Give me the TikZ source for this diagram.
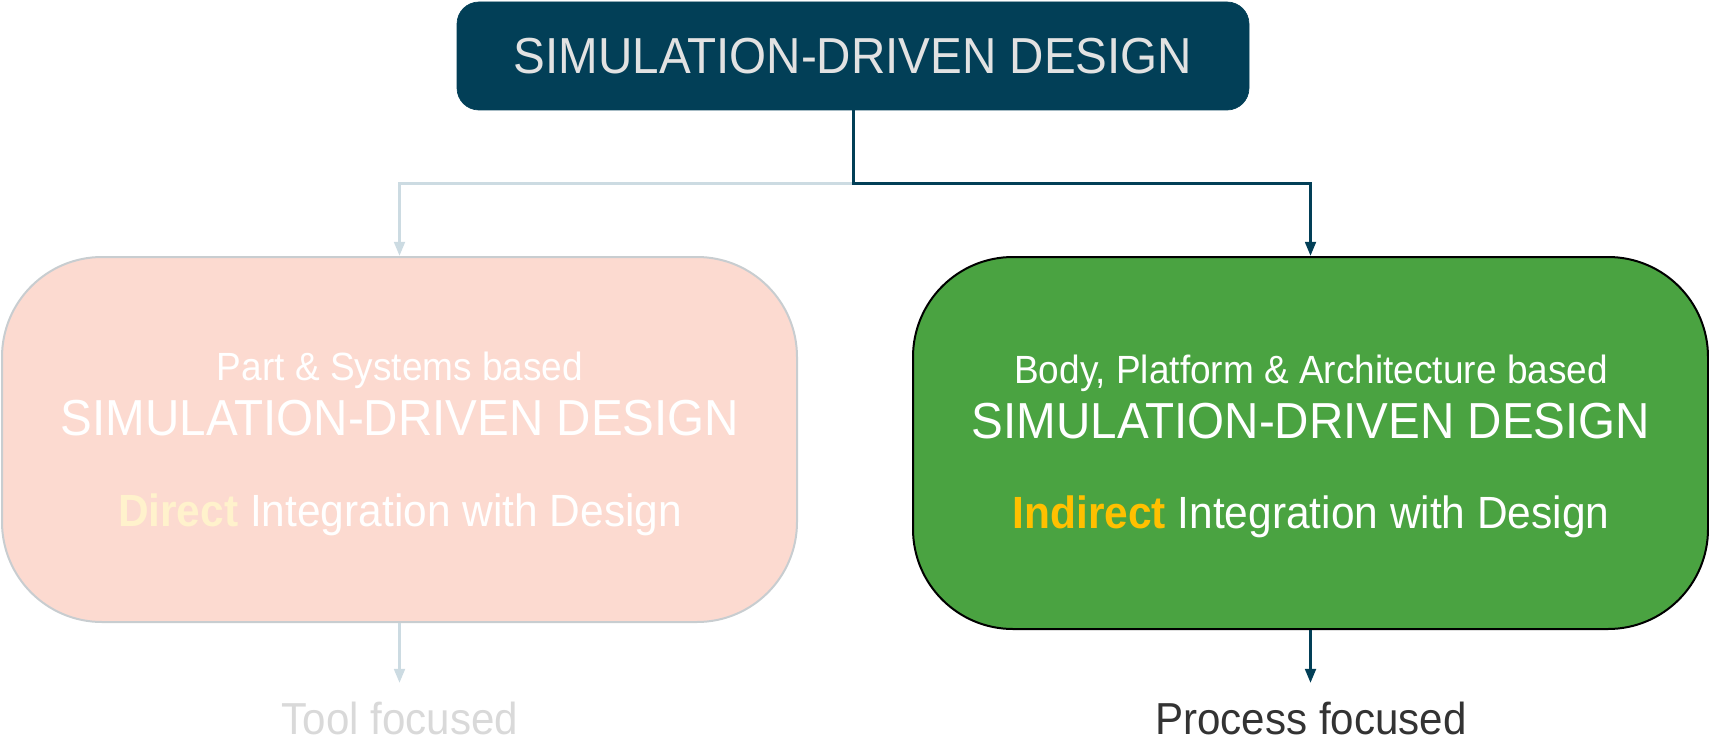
\documentclass[tikz,border=0pt]{standalone}
\usepackage{fontspec}
\setmainfont{Liberation Sans}[FakeStretch=0.94]
\usetikzlibrary{arrows.meta,positioning,calc}

\definecolor{sddteal}{RGB}{2,63,87}
\definecolor{sddlight}{RGB}{204,219,226}
\definecolor{headtext}{RGB}{226,226,226}
\definecolor{pinkfill}{RGB}{252,218,208}
\definecolor{pinkedge}{RGB}{200,205,208}
\definecolor{greenfill}{RGB}{74,163,65}
\definecolor{directcol}{RGB}{255,242,204}
\definecolor{indirectcol}{RGB}{255,192,0}
\definecolor{toolcol}{RGB}{217,217,217}
\definecolor{processcol}{RGB}{51,51,51}

\begin{document}
\begin{tikzpicture}[
    head/.style={fill=sddteal, draw=sddteal, rounded corners=0.44cm, minimum width=15.84cm, minimum height=2.16cm, inner sep=0pt, text=headtext, font=\fontsize{28.8}{30}\selectfont},
    branch/.style={rounded corners=2cm, minimum width=15.9cm, inner sep=0pt, line width=0.04cm},
    big/.style={anchor=base, inner sep=0pt, text=white, font=\fontsize{28.8}{30}\selectfont},
    sub/.style={anchor=base, inner sep=0pt, text=white, font=\fontsize{22.4}{24}\selectfont},
    integ/.style={anchor=base, inner sep=0pt, text=white, font=\fontsize{25.7}{27}\selectfont},
    focus/.style={anchor=base, inner sep=0pt, font=\fontsize{25.5}{27}\selectfont},
    arrow/.style={-{Triangle[length=8pt,width=6pt]}, line width=0.06cm}
  ]
    \useasboundingbox (0,0) rectangle (34.18,-14.84);

    \node[head] (top) at (17.06,-1.12) {SIMULATION-DRIVEN DESIGN};

    \node[branch, fill=pinkfill, draw=pinkedge, minimum height=7.3cm] (pink) at (7.99,-8.79) {};
    \node[branch, fill=greenfill, draw=black, minimum height=7.44cm] (green) at (26.21,-8.86) {};

    % part & systems side
    \node[sub] (pinksub) at (8.0,-7.6) {Part \& Systems based};
    \node[big] (pinkbig) at (8.0,-8.7) {SIMULATION-DRIVEN DESIGN};
    \node[integ] (pinkinteg) at (8.0,-10.52) {\textbf{\color{directcol}Direct} Integration with Design};

    % body, platform & architecture side
    \node[sub] (greensub) at (26.22,-7.66) {Body, Platform \& Architecture based};
    \node[big] (greenbig) at (26.22,-8.76) {SIMULATION-DRIVEN DESIGN};
    \node[integ] (greeninteg) at (26.22,-10.56) {\textbf{\color{indirectcol}Indirect} Integration with Design};

    \node[focus, text=toolcol] (tool) at (8.0,-14.68) {Tool focused};
    \node[focus, text=processcol] (process) at (26.22,-14.68) {Process focused};

    \coordinate (split) at ($(top.south)+(0,-1.46)$);
    \coordinate (toolend) at (7.99,-13.66);
    \coordinate (processend) at (26.21,-13.66);

    \draw[arrow, sddlight] (split) -| (pink.north);
    \draw[arrow, sddteal] (top.south) -- (split) -| (green.north);
    \draw[arrow, sddlight] (pink.south) -- (toolend);
    \draw[arrow, sddteal] (green.south) -- (processend);
  \end{tikzpicture}
\end{document}
